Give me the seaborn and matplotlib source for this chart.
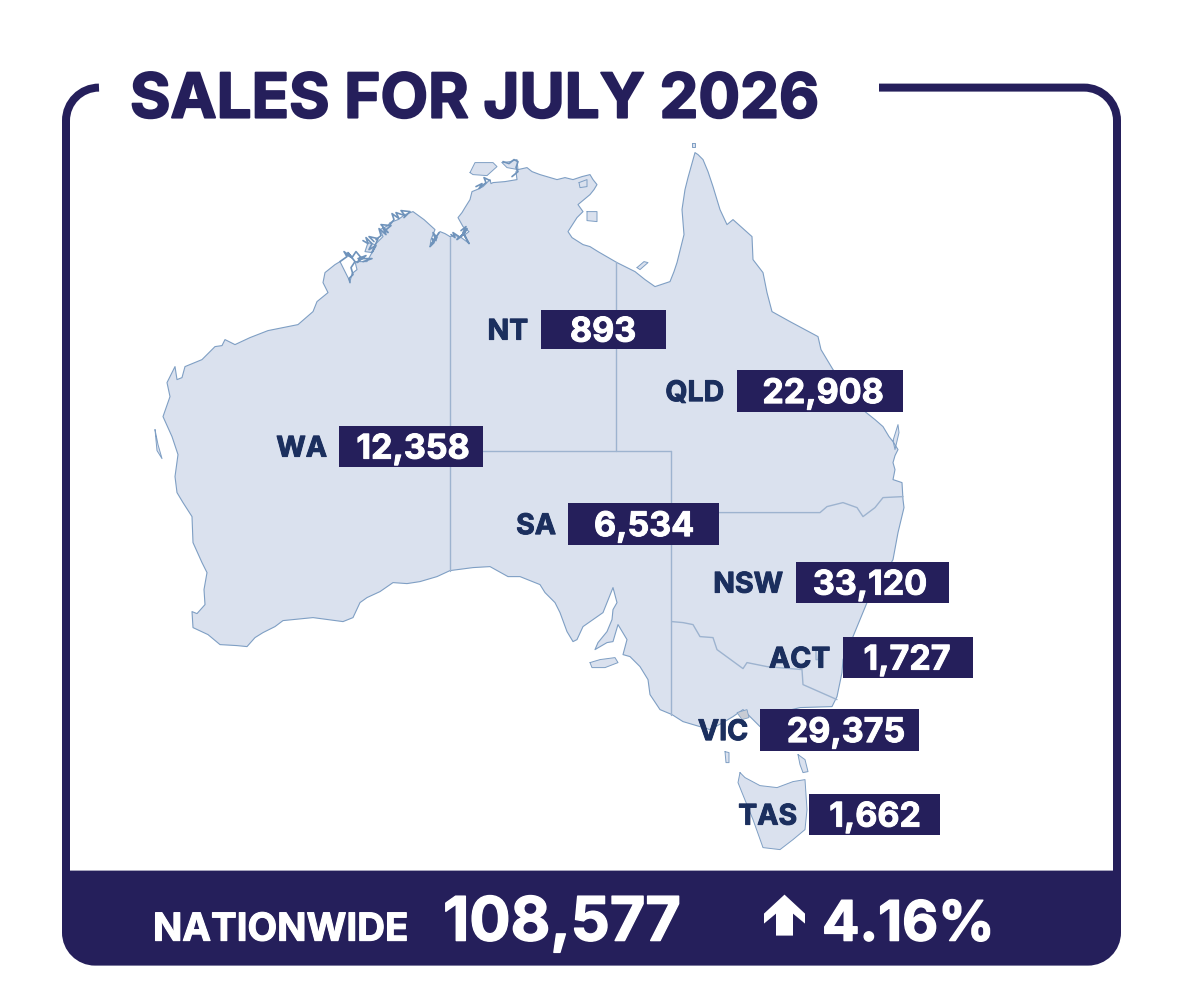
#!/usr/bin/env python3
"""Monthly sales by state, shown as value tags on a map of Australia."""
import numpy as np
import pandas as pd
import matplotlib
matplotlib.use("Agg")
import matplotlib.patheffects as pe
import matplotlib.pyplot as plt
from matplotlib.patches import PathPatch, Rectangle
from matplotlib.path import Path
import seaborn as sns

# ── Data ───────────────────────────────────────────────
STATES = ["NT", "QLD", "WA", "SA", "NSW", "ACT", "VIC", "TAS"]
SALES = [893, 22908, 12358, 6534, 33120, 1727, 29375, 1662]
NATIONWIDE = 108577
CHANGE_PCT = 4.16
TITLE = "SALES FOR JULY 2026"

# tag layout, one entry per state: box left, right, top, bottom, value centre, label right edge
BOX_LEFT = [541, 737, 339, 568, 796, 843, 760, 809]
BOX_RIGHT = [666, 903, 483, 719, 949, 973, 919, 940]
BOX_TOP = [310, 370, 426, 503, 562, 637, 709, 794]
BOX_BOTTOM = [349, 412, 467, 545, 603, 678, 751, 835]
VALUE_X = [603, 823, 413, 644, 870, 907, 846, 875]
LABEL_RIGHT = [528, 724, 327, 556, 783, 830, 748, 797]

# ── Map geometry (traced) ──────────────────────────────
COAST_X = [450, 455, 460, 464, 468, 465, 469, 463, 458, 462, 465, 470, 472, 477, 483, 490, 491, 493, 505, 517,
           516, 518, 527, 532, 540, 557, 565, 573, 582, 590, 593, 597, 594, 590, 578, 583, 577, 568, 572, 583,
           590, 598, 617, 635, 645, 655, 670, 674, 677, 684, 682, 685, 688, 693, 695, 698, 703, 708, 713, 720,
           727, 733, 742, 752, 753, 763, 767, 772, 790, 805, 818, 821, 827, 833, 850, 865, 875, 883, 889, 893,
           898, 895, 893, 895, 893, 902, 903, 904, 898, 893, 880, 867, 860, 853, 843, 842, 837, 832, 800, 775,
           760, 750, 743, 733, 723, 710, 700, 683, 672, 660, 650, 648, 640, 630, 623, 627, 618, 613, 607, 595,
           598, 607, 612, 613, 617, 613, 603, 583, 577, 573, 567, 560, 555, 545, 540, 520, 508, 490, 473, 450,
           437, 420, 407, 393, 380, 367, 360, 353, 343, 313, 283, 275, 263, 255, 247, 237, 220, 208, 193, 192,
           197, 205, 204, 207, 202, 193, 192, 183, 177, 175, 178, 172, 163, 170, 167, 175, 177, 182, 185, 202,
           215, 222, 225, 235, 250, 268, 298, 313, 317, 328, 323, 325, 335, 340, 345, 350, 352, 357, 355, 367,
           372, 365, 368, 375, 383, 380, 388, 390, 398, 405, 413, 424, 435, 431, 430, 436, 440, 445, 450]
COAST_Y = [237, 236, 237, 240, 243, 235, 232, 227, 218, 213, 208, 200, 192, 190, 187, 180, 184, 183, 182, 180,
           172, 170, 168, 172, 175, 180, 178, 180, 177, 175, 180, 185, 190, 195, 205, 212, 218, 232, 238, 245,
           247, 252, 263, 272, 280, 287, 282, 272, 263, 235, 210, 190, 178, 160, 153, 155, 160, 172, 187, 210,
           225, 220, 228, 237, 260, 273, 293, 312, 322, 330, 337, 350, 360, 370, 390, 412, 420, 427, 437, 442,
           450, 456, 463, 470, 480, 483, 500, 508, 533, 560, 583, 603, 620, 637, 660, 673, 697, 707, 708, 714,
           727, 717, 710, 717, 723, 730, 727, 722, 715, 710, 695, 680, 667, 657, 655, 640, 625, 642, 643, 650,
           643, 632, 620, 610, 603, 588, 613, 627, 640, 642, 632, 613, 603, 593, 585, 577, 577, 567, 568, 571,
           577, 582, 584, 583, 592, 598, 603, 618, 622, 618, 621, 627, 633, 638, 647, 646, 645, 635, 628, 612,
           614, 605, 590, 573, 563, 543, 517, 503, 493, 477, 455, 437, 417, 397, 383, 367, 380, 378, 367, 360,
           347, 346, 340, 345, 338, 331, 325, 312, 302, 293, 283, 273, 265, 262, 272, 282, 274, 270, 262, 262,
           253, 252, 243, 245, 237, 230, 226, 223, 220, 215, 212, 220, 230, 240, 247, 238, 232, 234, 237]

ISLANDS = [
    ([470, 475, 493, 497, 487, 473], [173, 163, 163, 167, 176, 175]),      # Tiwi
    ([502, 510, 517, 518, 507], [163, 162, 160, 170, 168]),
    ([579, 587, 587, 580], [183, 180, 187, 188]),                          # Groote
    ([587, 597, 597, 587], [212, 212, 222, 221]),
    ([637, 644, 648, 640], [268, 262, 263, 270]),
    ([692, 695, 695, 692], [143, 143, 147, 147]),
    ([155, 158, 162, 157], [430, 445, 459, 451]),                          # Dirk Hartog
    ([893, 898, 899, 895], [441, 425, 433, 450]),                          # Fraser
    ([590, 600, 615, 618, 605, 592], [663, 660, 658, 663, 668, 668]),      # Kangaroo
    ([725, 729, 729, 726], [752, 753, 763, 763]),                          # King
    ([798, 805, 808, 803, 800], [755, 760, 772, 773, 765]),                # Flinders
    ([740, 745, 760, 777, 793, 805, 807, 805, 793, 780, 763, 753, 742, 738],
     [773, 778, 786, 788, 782, 780, 810, 830, 840, 850, 848, 820, 793, 783]),  # Tasmania
]
PORT_PHILLIP_X = [737, 747, 749, 742]
PORT_PHILLIP_Y = [713, 710, 718, 720]

# each tuple holds x and y of one state border
BORDERS = [
    ([450, 450], [237, 571]),
    ([616, 616], [262, 451]),
    ([450, 671], [451, 451]),
    ([671, 671], [451, 715]),
    ([671, 820, 827, 843, 857, 863, 875, 883, 903], [513, 513, 507, 503, 508, 517, 508, 498, 497]),
    ([672, 683, 693, 700, 713, 717, 743, 747, 767, 802, 803, 837],
     [622, 623, 625, 637, 638, 650, 669, 663, 667, 670, 685, 700]),
    ([816, 819, 818, 816, 816], [650, 650, 660, 660, 650]),
]

# inlets of the Kimberley and Top End coast, drawn darker than the rest
INLETS = [
    ([340, 347, 344, 352, 348, 355, 351, 353, 349, 350], [262, 257, 252, 258, 253, 262, 268, 275, 279, 283]),
    ([346, 352, 356, 361, 357, 366, 358, 372, 363], [255, 258, 252, 258, 263, 256, 259, 259, 262]),
    ([363, 368, 366, 372, 369, 376, 372, 378, 369, 374], [241, 244, 238, 244, 250, 246, 253, 239, 237, 242]),
    ([376, 381, 379, 386, 383, 388, 381, 391, 385], [240, 236, 229, 235, 228, 233, 225, 226, 231]),
    ([390, 394, 392, 399, 396, 405, 401, 410, 404], [225, 220, 214, 219, 213, 216, 211, 212, 218]),
    ([430, 434, 432, 436, 433, 437, 431, 439], [247, 243, 239, 241, 233, 238, 245, 233]),
    ([451, 455, 453, 459, 457, 463, 460, 467, 464, 469, 463, 466, 461], [235, 238, 233, 237, 240, 235, 238, 229, 235, 244, 233, 227, 231]),
    ([476, 482, 479, 486, 484, 490], [187, 184, 189, 183, 178, 181]),
    ([503, 509, 514, 518, 516, 518, 512], [162, 164, 160, 162, 168, 172, 177]),
]

NAVY = "#251f5b"
LABEL_NAVY = "#1b2f5e"
LAND = "#dae1ee"
COAST = "#7f9fc4"
BORDER = "#9db3cf"
FONT = "Inter"

sns.set_theme(style="white")
plt.rcParams.update({"font.family": [FONT, "DejaVu Sans"], "figure.dpi": 100})


def fat(color, width):
    """Stroke in the text colour, the installed bold is lighter than the original face."""
    return [pe.withStroke(linewidth=width, foreground=color)]


def draw_map(ax):
    """Land fill plus coast and border lines."""
    ax.fill(COAST_X, COAST_Y, color=LAND, lw=0, zorder=1)
    sns.lineplot(x=COAST_X, y=COAST_Y, sort=False, estimator=None, color=COAST, lw=0.8, ax=ax, zorder=2)
    for xs, ys in ISLANDS:
        ax.fill(xs, ys, color=LAND, lw=0, zorder=1)
        sns.lineplot(x=xs + xs[:1], y=ys + ys[:1], sort=False, estimator=None, color=COAST, lw=0.7, ax=ax, zorder=2)
    ax.fill(PORT_PHILLIP_X, PORT_PHILLIP_Y, color="#c8ccd4", ec=COAST, lw=0.6, zorder=2)
    for xs, ys in BORDERS:
        sns.lineplot(x=xs, y=ys, sort=False, estimator=None, color=BORDER, lw=1.0, ax=ax, zorder=2)
    for xs, ys in INLETS:
        sns.lineplot(x=xs, y=ys, sort=False, estimator=None, color="#6f93bb", lw=1.2, ax=ax, zorder=2)


def draw_frame(ax):
    """Open rounded frame and the solid footer band."""
    r, k = 33, 33 * 0.45
    left = Path([(99, 88), (66 + k, 88), (66, 88 + k), (66, 88 + r), (66, 880)],
                [Path.MOVETO, Path.CURVE4, Path.CURVE4, Path.CURVE4, Path.LINETO])
    right = Path([(879, 88), (1117 - r, 88), (1117 - k, 88), (1117, 88 + k), (1117, 88 + r), (1117, 880)],
                 [Path.MOVETO, Path.LINETO, Path.CURVE4, Path.CURVE4, Path.CURVE4, Path.LINETO])
    for p in (left, right):
        ax.add_patch(PathPatch(p, fill=False, edgecolor=NAVY, lw=5.76, capstyle="butt", zorder=3))
    band = Path([(62, 871), (1121, 871), (1121, 966 - r), (1121, 966 - k), (1121 - k, 966), (1121 - r, 966),
                 (62 + r, 966), (62 + k, 966), (62, 966 - k), (62, 966 - r), (62, 871)],
                [Path.MOVETO, Path.LINETO, Path.LINETO, Path.CURVE4, Path.CURVE4, Path.CURVE4,
                 Path.LINETO, Path.CURVE4, Path.CURVE4, Path.CURVE4, Path.CLOSEPOLY])
    ax.add_patch(PathPatch(band, facecolor=NAVY, edgecolor="none", zorder=3))


def draw_tags(ax):
    df = pd.DataFrame({"state": STATES, "sales": SALES, "left": BOX_LEFT, "right": BOX_RIGHT,
                       "top": BOX_TOP, "bottom": BOX_BOTTOM, "vx": VALUE_X, "lx": LABEL_RIGHT})
    for _, row in df.iterrows():
        ax.add_patch(Rectangle((row["left"], row["top"]), row["right"] - row["left"], row["bottom"] - row["top"],
                               facecolor=NAVY, edgecolor="none", zorder=4))
        cy = (row["top"] + row["bottom"]) / 2
        ax.text(row["vx"], cy, f"{row['sales']:,}", color="white", fontsize=24.5, fontweight="bold",
                ha="center", va="center_baseline", zorder=5, path_effects=fat("white", 0.7))
        ax.text(row["lx"], cy, row["state"], color=LABEL_NAVY, fontsize=20.5, fontweight="bold",
                ha="right", va="center_baseline", zorder=5, path_effects=fat(LABEL_NAVY, 0.7))


def draw_footer(ax):
    ax.text(153, 941, "NATIONWIDE", color="white", fontsize=27.7, fontweight="bold", ha="left", va="baseline",
            zorder=5, path_effects=fat("white", 0.8))
    ax.text(443, 941, f"{NATIONWIDE:,}", color="white", fontsize=44, fontweight="bold", ha="left", va="baseline",
            zorder=5, path_effects=fat("white", 1.0))
    ax.text(822, 941, f"{CHANGE_PCT:.2f}%", color="white", fontsize=40, fontweight="bold", ha="left", va="baseline",
            zorder=5, path_effects=fat("white", 1.0))
    arrow = np.array([(784.5, 895), (805, 914), (805, 924), (793, 914), (793, 936),
                      (776, 936), (776, 914), (764, 924), (764, 914)])
    ax.fill(arrow[:, 0], arrow[:, 1], color="white", lw=0, zorder=5)


fig, ax = plt.subplots(figsize=(11.82, 10.04), dpi=100)
fig.subplots_adjust(0, 0, 1, 1)
draw_map(ax)
draw_frame(ax)
draw_tags(ax)
draw_footer(ax)
ax.text(130, 118, TITLE, color=NAVY, fontsize=44.5, fontweight="bold", ha="left", va="baseline",
        zorder=5, path_effects=fat(NAVY, 1.4))

ax.set_xlim(0, 1182)
ax.set_ylim(1003.4, -0.6)
ax.axis("off")
fig.savefig("out.png", dpi=100, facecolor="white")
plt.close(fig)
